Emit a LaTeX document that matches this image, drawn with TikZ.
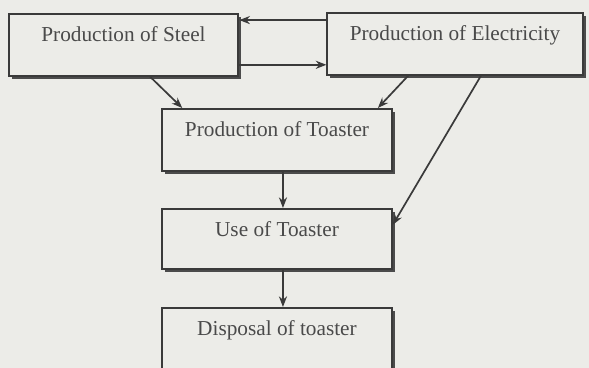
\documentclass[tikz,border=0pt]{standalone}
\usepackage{fontspec}
\setmainfont{Liberation Serif}
\usepackage{xcolor}
\usepackage{tikz}
\usetikzlibrary{arrows.meta,shadows}
\definecolor{PaperGray}{HTML}{ECECE8}
\definecolor{InkGray}{HTML}{3A3A3A}
\definecolor{TextGray}{HTML}{4A4A4A}

\begin{document}
\begin{tikzpicture}[x=0.47pt, y=-0.47pt,
    stage/.style={draw=InkGray, line width=0.85pt, fill=PaperGray, text=TextGray,
        minimum width=108pt, inner xsep=0pt, inner ysep=6.2pt,
        text height=7pt, text depth=9.7pt, anchor=north,
        drop shadow={shadow xshift=1.4pt, shadow yshift=-1.4pt, fill=InkGray, opacity=0.9}},
    flow/.style={draw=InkGray, line width=0.8pt, -{Stealth[length=5pt, width=3.8pt]}}]
            \fill[PaperGray] (0,0) rectangle (589,368);
            \useasboundingbox (0,0) rectangle (589,368);

            % Stages
            \node[stage] (steel) at (123.5,13) {Production of Steel};
            \node[stage, minimum width=120pt] (elec) at (455,12) {Production of Electricity};
            \node[stage] (toaster) at (277,108) {Production of Toaster};
            \node[stage, text depth=8.8pt] (use) at (277,208) {Use of Toaster};
            \node[stage] (disposal) at (277,307) {Disposal of toaster};

            % Flows
            \draw[flow] ([yshift=-3.8pt]elec.north west) -- ([yshift=-3.8pt]elec.north west -| steel.east);
            \draw[flow] ([yshift=5.6pt]steel.south east) -- ([yshift=5.6pt]steel.south east -| elec.west);
            \draw[flow] ([xshift=12.5pt]steel.south) -- ([xshift=9.9pt]toaster.north west);
            \draw[flow] ([xshift=-22pt]elec.south) -- ([xshift=-7pt]toaster.north east);
            \draw[flow] ([xshift=12.2pt]elec.south) -- ([yshift=6.6pt]use.east);
            \draw[flow] ([xshift=2.8pt]toaster.south) -- ([xshift=2.8pt]use.north);
            \draw[flow] ([xshift=2.8pt]use.south) -- ([xshift=2.8pt]disposal.north);
        \end{tikzpicture}
\end{document}
